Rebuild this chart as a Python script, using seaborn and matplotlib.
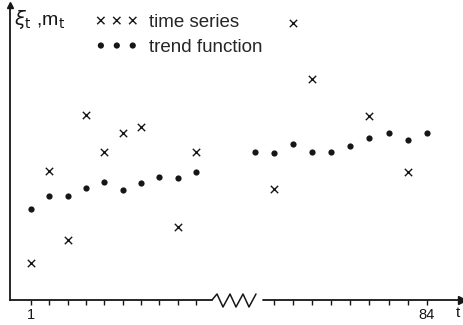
import numpy as np
import pandas as pd
import matplotlib
matplotlib.use("Agg")
import matplotlib.pyplot as plt
import seaborn as sns

# observation times: the first ten and the last ten of the series
t_early = [1, 2, 3, 4, 5, 6, 7, 8, 9, 10]
t_late = [75, 76, 77, 78, 79, 80, 81, 82, 83, 84]

# observed values xi_t (nan where no cross is printed)
xi_early = [3.7, 12.9, 6.0, 18.5, 14.8, 16.7, 17.3, np.nan, 7.3, 14.8]
xi_late = [np.nan, 11.1, 27.7, 22.1, np.nan, np.nan, 18.4, np.nan, 12.8, np.nan]

# fitted trend m_t
m_early = [9.1, 10.4, 10.4, 11.2, 11.8, 11.0, 11.7, 12.3, 12.2, 12.8]
m_late = [14.8, 14.7, 15.6, 14.8, 14.8, 15.4, 16.2, 16.7, 16.0, 16.7]

# labelled ticks on the time axis
tick_labels = {1: "1", 84: "84"}

INK = "#161616"

sns.set_style("white")
plt.rcParams["font.family"] = ["Liberation Sans", "DejaVu Sans"]

# broken time axis: the stretch between t=10 and t=75 is squeezed
GAP_LO, GAP_HI = 10.0, 75.0
GAP_W = 3.2
LATE_STRETCH = 1.045


def squeeze(t):
    t = np.asarray(t, float)
    top = GAP_LO + GAP_W
    return np.where(t <= GAP_LO, t,
                    np.where(t >= GAP_HI, top + (t - GAP_HI) * LATE_STRETCH,
                             GAP_LO + (t - GAP_LO) * GAP_W / (GAP_HI - GAP_LO)))


def unsqueeze(p):
    p = np.asarray(p, float)
    top = GAP_LO + GAP_W
    return np.where(p <= GAP_LO, p,
                    np.where(p >= top, GAP_HI + (p - top) / LATE_STRETCH,
                             GAP_LO + (p - GAP_LO) * (GAP_HI - GAP_LO) / GAP_W))


df = pd.DataFrame({
    "t": t_early + t_late,
    "xi": xi_early + xi_late,
    "m": m_early + m_late,
})

W, H = 464, 325
fig = plt.figure(figsize=(W / 100, H / 100), dpi=100)
fig.patch.set_facecolor("white")
ax = fig.add_axes([10 / W, 25 / H, 452 / W, 295 / H])
ax.set_facecolor("none")
ax.set_xscale("function", functions=(squeeze, unsqueeze))

sns.scatterplot(data=df, x="t", y="m", marker="o", s=20, color=INK,
                edgecolor=INK, linewidth=0, ax=ax, label="trend function")
sns.scatterplot(data=df, x="t", y="xi", marker="x", s=28, color=INK,
                linewidth=1.0, ax=ax, label="time series")

ax.set_xlim(-0.146, 85.83)
ax.set_ylim(0, 29.5)

# legend: three symbols in a row, time series first
handles, labels = ax.get_legend_handles_labels()
order = [labels.index("time series"), labels.index("trend function")]
ax.legend([handles[i] for i in order], [labels[i] for i in order],
          loc="upper left", bbox_to_anchor=(0.172, 0.995), frameon=False,
          scatterpoints=3, scatteryoffsets=[0.5], handlelength=2.3,
          handletextpad=0.55, labelspacing=0.42, fontsize=13.5,
          borderaxespad=0.0)

# axes: left spine with arrow, bottom axis drawn by hand with a break
for side in ("top", "right", "bottom"):
    ax.spines[side].set_visible(False)
ax.spines["left"].set_color(INK)
ax.spines["left"].set_linewidth(1.3)
ax.plot([0], [1.0], marker="^", ms=5, color=INK, transform=ax.transAxes,
        clip_on=False)

px = 1 / 452.0
py = 1 / 295.0
ax.plot([0, (212 - 10) * px], [0, 0], color=INK, lw=1.3,
        transform=ax.transAxes, clip_on=False)
zig_x = np.array([212, 217, 223, 230, 236, 243, 249, 256]) - 10
zig_y = np.array([0, 6, -7, 6, -7, 6, -7, 6])
ax.plot(zig_x * px, zig_y * py, color=INK, lw=1.1,
        transform=ax.transAxes, clip_on=False)
ax.plot([(263 - 10) * px, 1.0], [0, 0], color=INK, lw=1.3,
        transform=ax.transAxes, clip_on=False)
ax.plot([1.0], [0], marker=">", ms=6, color=INK, transform=ax.transAxes,
        clip_on=False)

ticks = [t for t in t_early] + [t for t in t_late if t > 75]
ax.set_xticks(ticks)
ax.set_xticklabels([tick_labels.get(t, "") for t in ticks])
ax.xaxis.set_minor_locator(matplotlib.ticker.NullLocator())
ax.tick_params(axis="x", direction="out", length=3.5, width=1.0,
               colors=INK, labelsize=10.5, pad=2, bottom=True)
ax.set_yticks([])
ax.set_xlabel("")
ax.set_ylabel("")

ax.text(0.991, -0.044, "t", transform=ax.transAxes, ha="center",
        va="center", fontsize=11, color=INK)
ax.text(0.008, 0.99, r"$\xi_\mathrm{t}$ ,m$_\mathrm{t}$", transform=ax.transAxes,
        ha="left", va="top", fontsize=14, color=INK)

fig.savefig("out.png", dpi=100, facecolor="white")
